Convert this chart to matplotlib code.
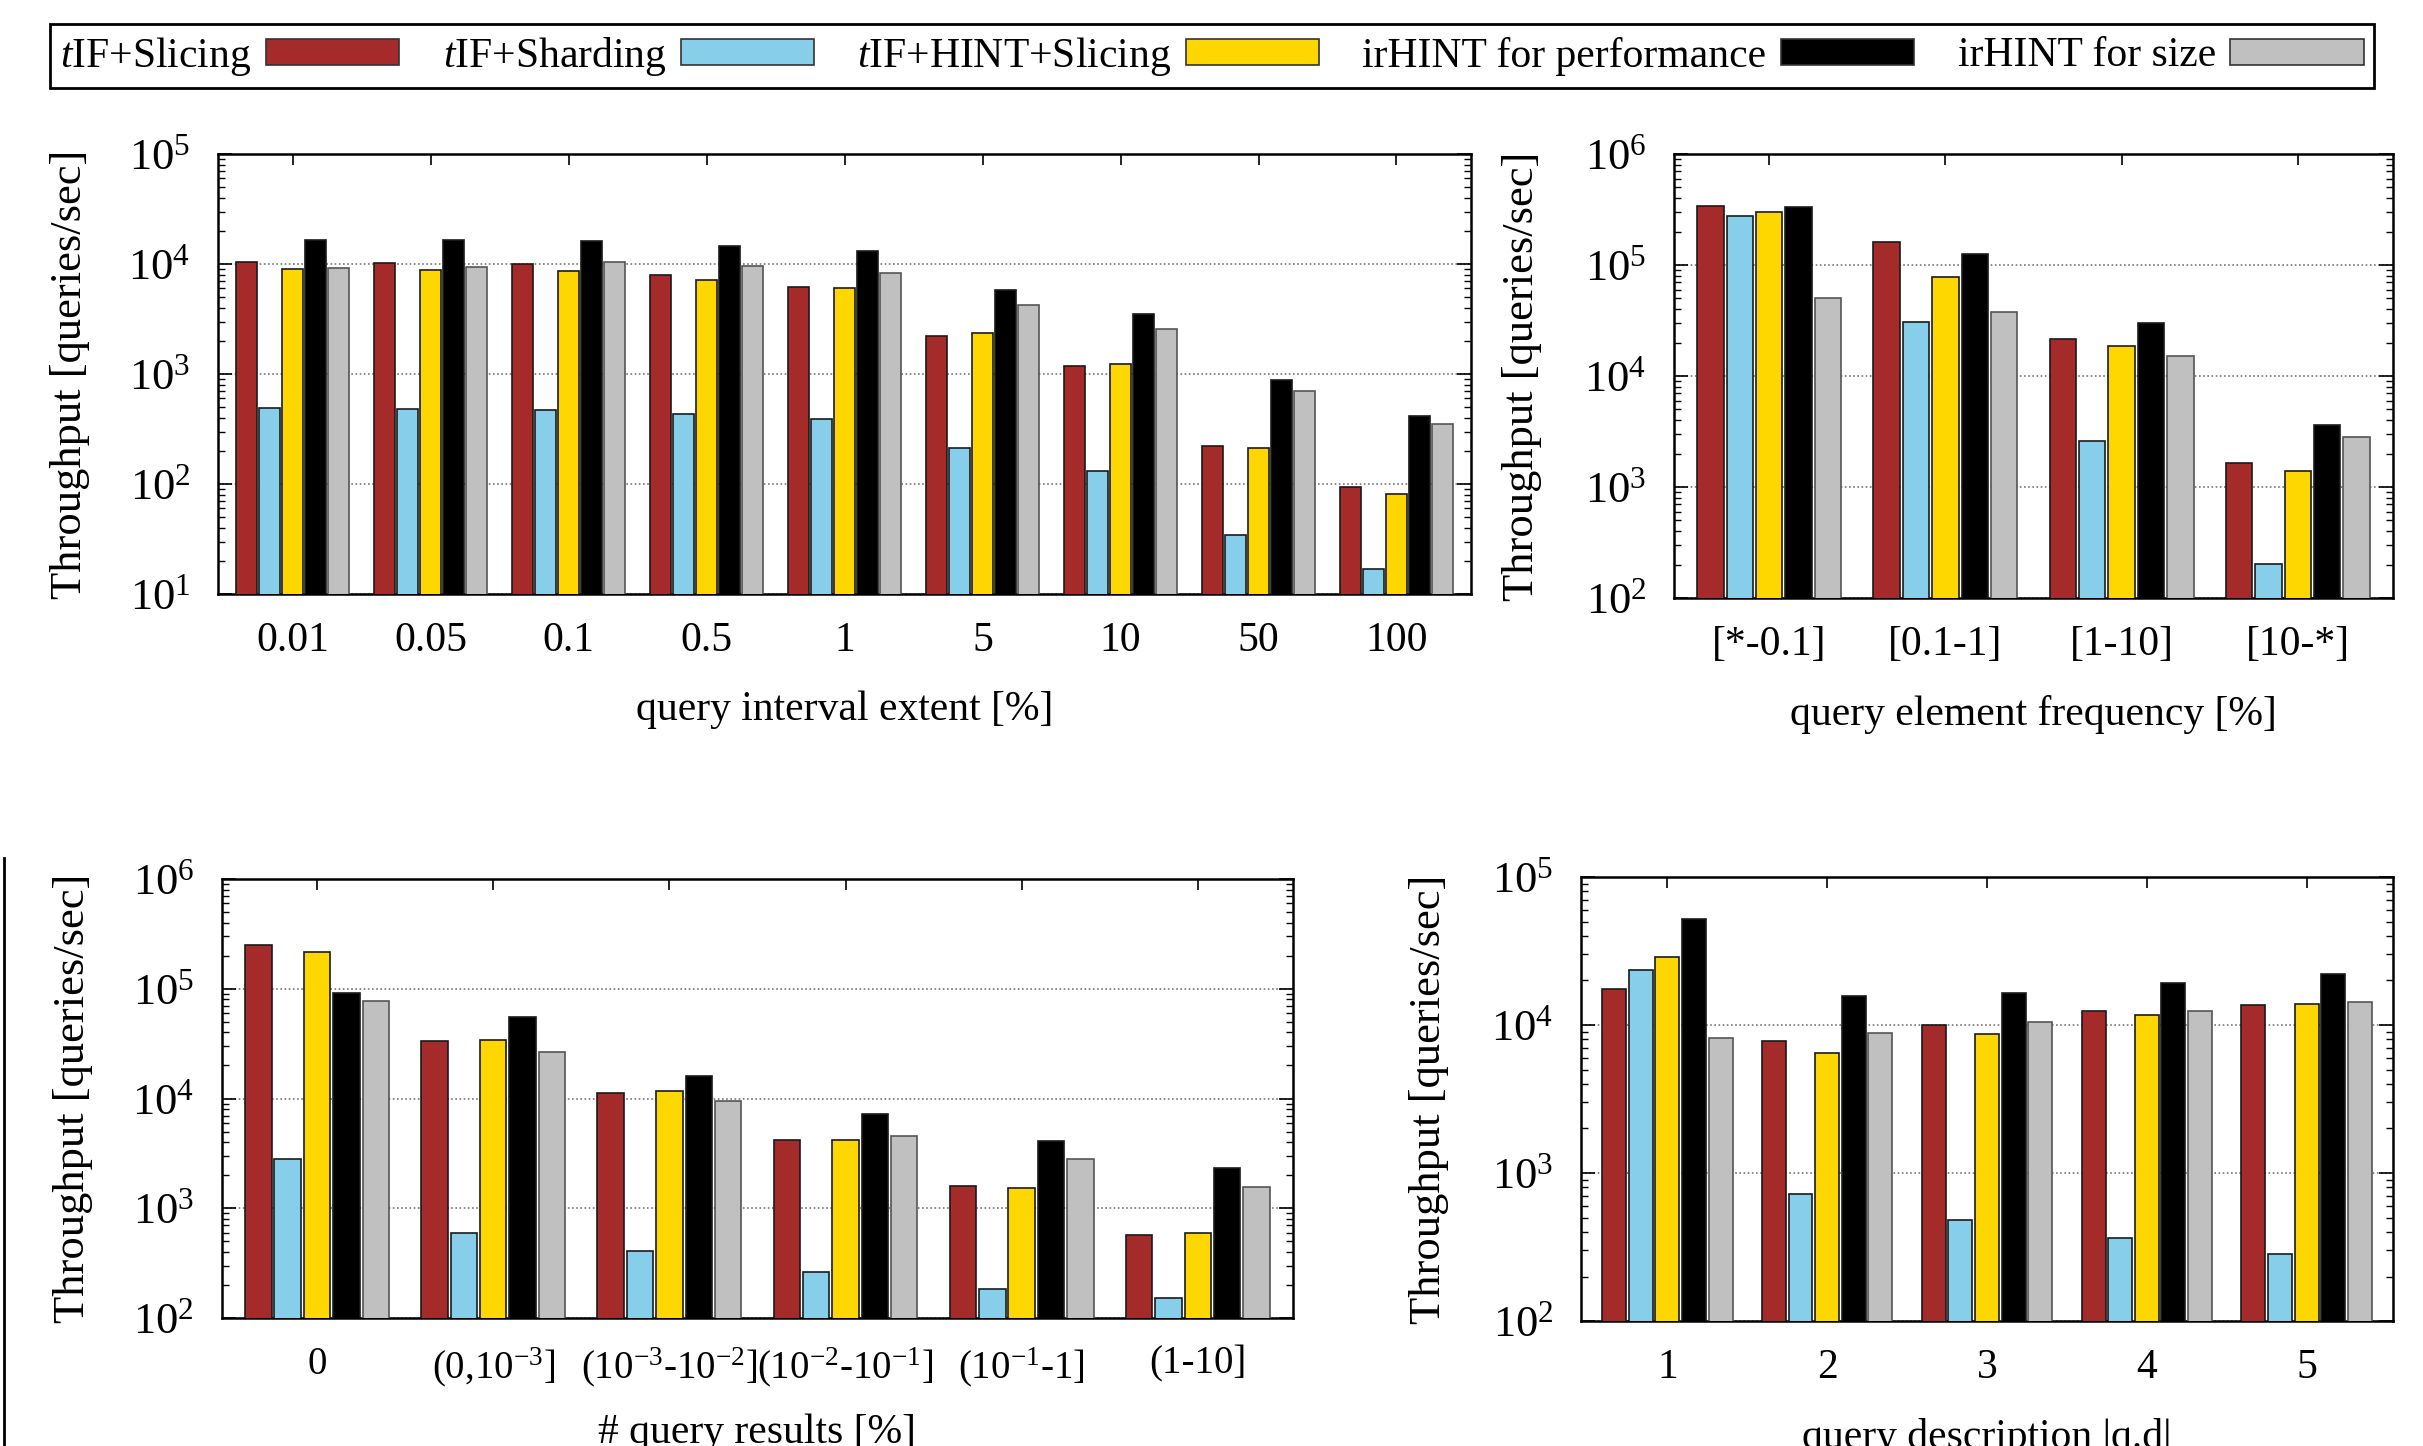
import numpy as np
import matplotlib
matplotlib.use('Agg')
import matplotlib.pyplot as plt
from matplotlib.patches import Patch
from matplotlib.lines import Line2D
from matplotlib.ticker import NullFormatter, LogLocator

plt.rcParams['font.family'] = ['Liberation Serif', 'DejaVu Serif']
plt.rcParams['mathtext.fontset'] = 'custom'
plt.rcParams['mathtext.rm'] = 'Liberation Serif'
plt.rcParams['mathtext.it'] = 'Liberation Serif:italic'
plt.rcParams['mathtext.default'] = 'regular'

#%% data (throughput, queries/sec)
methods = [r'$\mathit{t}$IF+Slicing', r'$\mathit{t}$IF+Sharding', r'$\mathit{t}$IF+HINT+Slicing',
           'irHINT for performance', 'irHINT for size']
colors = ['#A52A2A', '#87CEEB', '#FFD700', '#000000', '#C0C0C0']

# query interval extent [%]
extent_cats = ['0.01', '0.05', '0.1', '0.5', '1', '5', '10', '50', '100']
extent_slicing = [10400, 10200, 9930, 7890, 6220, 2210, 1180, 221, 94]
extent_sharding = [488, 477, 471, 436, 387, 211, 131, 34.4, 16.9]
extent_hint = [9000, 8750, 8630, 7160, 6050, 2340, 1230, 211, 81.7]
extent_perf = [16700, 16500, 16300, 14600, 13100, 5850, 3530, 875, 418]
extent_size = [9140, 9460, 10500, 9590, 8280, 4240, 2580, 705, 353]

# query element frequency [%]
freq_cats = ['[*-0.1]', '[0.1-1]', '[1-10]', '[10-*]']
freq_slicing = [343000, 161000, 21500, 1660]
freq_sharding = [276000, 30400, 2580, 201]
freq_hint = [300000, 78000, 18600, 1380]
freq_perf = [331000, 125000, 29800, 3600]
freq_size = [50800, 37500, 15100, 2840]

# query results [%]
res_cats = ['0', '(0,10$^{-3}$]', '(10$^{-3}$-10$^{-2}$]', '(10$^{-2}$-10$^{-1}$]', '(10$^{-1}$-1]', '(1-10]']
res_slicing = [251000, 33300, 11300, 4180, 1610, 566]
res_sharding = [2790, 598, 410, 262, 185, 152]
res_hint = [217000, 34400, 11700, 4180, 1530, 590]
res_perf = [92300, 55100, 16100, 7210, 4070, 2310]
res_size = [77800, 26800, 9530, 4580, 2790, 1570]

# query description |q.d|
desc_cats = ['1', '2', '3', '4', '5']
desc_slicing = [17600, 7820, 10000, 12500, 13600]
desc_sharding = [23400, 723, 480, 363, 286]
desc_hint = [28700, 6450, 8740, 11700, 13900]
desc_perf = [52100, 15600, 16400, 19100, 22200]
desc_size = [8120, 8790, 10500, 12400, 14300]

fnt = 30

def draw(ax, cats, series, ylim, xlabel, ylab_x, xfnt=fnt):
    x = np.arange(len(cats))
    slot = 1 / 6.
    for i, vals in enumerate(series):
        ec = '#555555' if i == 4 else '#1a1a1a'
        ax.bar(x + (i - 2) * slot, vals, width=0.9 * slot, color=colors[i],
               edgecolor=ec, linewidth=1.2, zorder=3)
    ax.set_yscale('log')
    ax.set_ylim(ylim)
    ax.set_xlim(-0.54, len(cats) - 1 + 0.54)
    ax.set_xticks(x)
    ax.set_xticklabels(cats, fontsize=xfnt)
    ax.yaxis.set_major_locator(LogLocator(base=10, subs=(1.0,), numticks=20))
    ax.yaxis.set_minor_locator(LogLocator(base=10, subs=np.arange(2, 10), numticks=20))
    ax.yaxis.set_minor_formatter(NullFormatter())
    ax.tick_params(axis='y', which='major', labelsize=32, direction='in', length=10, width=1.2,
                   left=True, right=True, pad=20)
    ax.tick_params(axis='y', which='minor', direction='in', length=5, width=1, left=True, right=True)
    ax.tick_params(axis='x', direction='in', length=8, width=1.2, top=True, bottom=True, pad=20)
    ax.set_axisbelow(True)
    ax.yaxis.grid(True, which='major', linestyle=(0, (1, 1.5)), color='#777777', linewidth=1.2)
    for s in ax.spines.values():
        s.set_linewidth(1.8)
    ax.set_ylabel('Throughput [queries/sec]', fontsize=32)
    ax.yaxis.label.set_va('center')
    ax.yaxis.set_label_coords(ylab_x, 0.5)
    ax.set_xlabel(xlabel, fontsize=fnt)
    ax.xaxis.label.set_va('center')
    ax.xaxis.set_label_coords(0.5, -0.262)


fig = plt.figure(figsize=(24.23, 14.46), dpi=100)

ax1 = fig.add_axes([0.0900, 0.5892, 0.5171, 0.3043])
draw(ax1, extent_cats, [extent_slicing, extent_sharding, extent_hint, extent_perf, extent_size],
     (10, 1e5), 'query interval extent [%]', -0.118)

ax2 = fig.add_axes([0.6909, 0.5865, 0.2967, 0.3070])
draw(ax2, freq_cats, [freq_slicing, freq_sharding, freq_hint, freq_perf, freq_size],
     (100, 1e6), 'query element frequency [%]', -0.211)

ax3 = fig.add_axes([0.0916, 0.0885, 0.4420, 0.3036])
draw(ax3, res_cats, [res_slicing, res_sharding, res_hint, res_perf, res_size],
     (100, 1e6), '# query results [%]', -0.139, xfnt=28)

ax4 = fig.add_axes([0.6525, 0.0864, 0.3351, 0.3071])
draw(ax4, desc_cats, [desc_slicing, desc_sharding, desc_hint, desc_perf, desc_size],
     (100, 1e5), 'query description |q.d|', -0.187)

# shared legend on top
handles = [Patch(facecolor=c, edgecolor='#333333', linewidth=1.2) for c in colors]
leg = fig.legend(handles, methods, loc='center', ncol=5, mode='expand',
                 bbox_to_anchor=(29 / 2423, 1 - 90 / 1446, 2366 / 2423, 68 / 1446),
                 fontsize=fnt, markerfirst=False, handlelength=3.2, handleheight=0.6,
                 handletextpad=0.35, borderpad=0.25, fancybox=False, framealpha=1,
                 edgecolor='black')
leg.get_frame().set_linewidth(2)

# frame edge of a neighbouring figure at the left border
fig.add_artist(Line2D([0.0015, 0.0015], [0.0, 1 - 858 / 1446], color='black', linewidth=2))

fig.savefig('out.png', dpi=100)
